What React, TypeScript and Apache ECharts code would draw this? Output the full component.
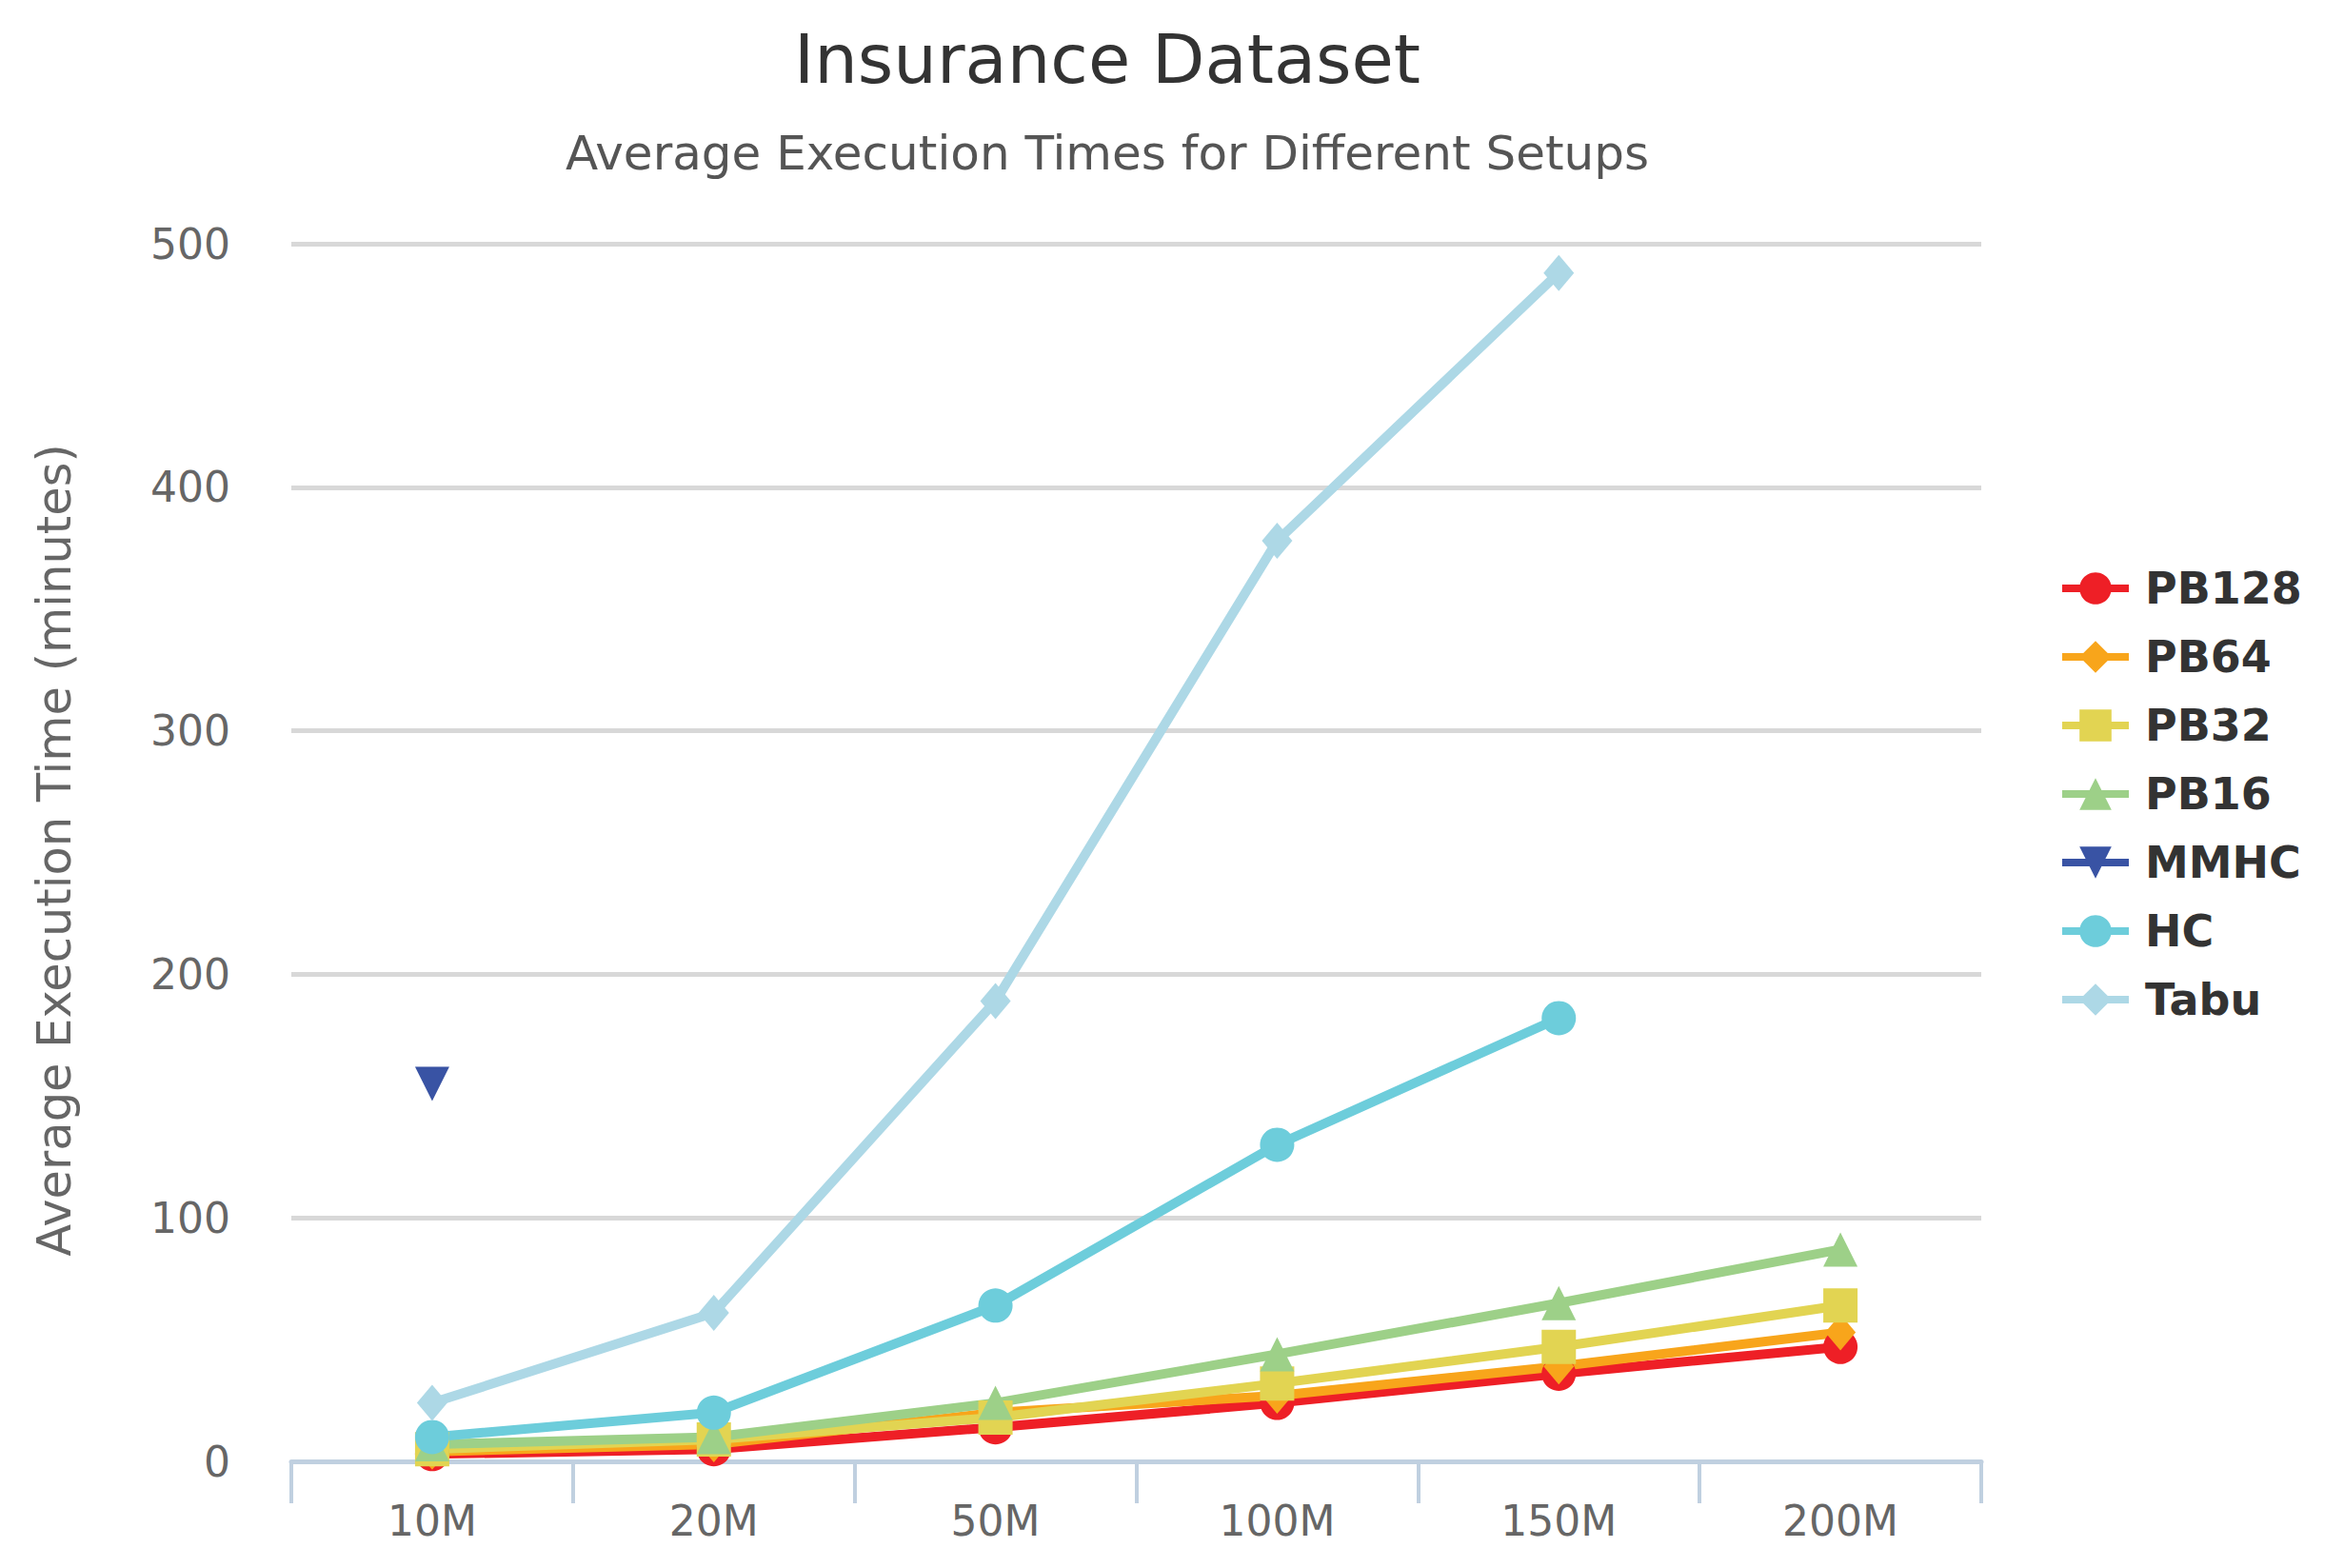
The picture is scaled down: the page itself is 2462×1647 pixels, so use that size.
import React, { useEffect, useRef } from "react";
import * as echarts from "echarts";

const categories = ["10M", "20M", "50M", "100M", "150M", "200M"];
const yTicks = [0, 100, 200, 300, 400, 500];

const pb128 = [3, 5, 14, 24, 36, 47];
const pb64 = [4, 7, 20, 27, 39, 53];
const pb32 = [5, 9, 18, 32, 47, 64];
const pb16 = [7, 10, 24, 44, 65, 87];
const mmhc = [155, null, null, null, null, null];
const hc = [10, 20, 64, 130, 182, null];
const tabu = [24, 61, 189, 378, 488, null];

const seriesNames = ["PB128", "PB64", "PB32", "PB16", "MMHC", "HC", "Tabu"];
const seriesData = [pb128, pb64, pb32, pb16, mmhc, hc, tabu];
const seriesColors = ["#EE1F26", "#F8A51B", "#E2D452", "#9DD088", "#3953A4", "#6DCDDB", "#ADD8E6"];
const seriesSymbols = ["circle", "diamond", "rect", "triangle", "path://M0,0L2,0L1,2Z", "circle", "diamond"];
const seriesSymbolSizes: any[] = [36, [32, 38], 36, 36, 36, 36, [32, 38]];

const FONT = "DejaVu Sans";

export default function App() {
  const ref = useRef<HTMLDivElement>(null);
  useEffect(() => {
    document.body.style.margin = "0";
    if (!ref.current) return;
    const chart = echarts.init(ref.current, null, { renderer: "svg" });
    const series = seriesNames.map((name, i) => ({
      name,
      type: "line",
      data: seriesData[i],
      symbol: seriesSymbols[i],
      symbolSize: seriesSymbolSizes[i],
      showAllSymbol: true,
      connectNulls: false,
      lineStyle: { width: 10, color: seriesColors[i] },
      itemStyle: { color: seriesColors[i] },
      emphasis: { disabled: true },
    }));
    chart.setOption({
      animation: false,
      backgroundColor: "#ffffff",
      textStyle: { fontFamily: FONT },
      grid: { left: 306, right: 381, top: 256, bottom: 112, containLabel: false },
      legend: {
        orient: "vertical",
        left: 2157,
        top: 590,
        itemWidth: 70,
        itemHeight: 42,
        itemGap: 26,
        data: seriesNames,
        lineStyle: { width: 8 },
        textStyle: {
          fontFamily: FONT,
          fontSize: 46,
          fontWeight: "bold",
          color: "#333333",
          lineHeight: 42,
          padding: [0, 0, 0, 12],
        },
      },
      xAxis: {
        type: "category",
        data: categories,
        boundaryGap: true,
        axisLine: { show: true, lineStyle: { color: "#C0D0E0", width: 5 } },
        axisTick: { show: true, alignWithLabel: false, length: 44, lineStyle: { color: "#C0D0E0", width: 4 } },
        axisLabel: { fontFamily: FONT, fontSize: 44, color: "#666666", margin: 40 },
        splitLine: { show: false },
      },
      yAxis: {
        type: "value",
        min: yTicks[0],
        max: yTicks[yTicks.length - 1],
        interval: 100,
        axisLine: { show: false },
        axisTick: { show: false },
        axisLabel: { fontFamily: FONT, fontSize: 44, color: "#666666", margin: 64 },
        splitLine: { show: true, lineStyle: { color: "#D8D8D8", width: 5 } },
      },
      graphic: [
        {
          type: "text",
          x: 1163,
          y: 62,
          style: {
            text: "Insurance Dataset",
            font: `72px "${FONT}"`,
            fill: "#333333",
            textAlign: "center",
            textVerticalAlign: "middle",
          },
        },
        {
          type: "text",
          x: 1163,
          y: 161,
          style: {
            text: "Average Execution Times for Different Setups",
            font: `50px "${FONT}"`,
            fill: "#555555",
            textAlign: "center",
            textVerticalAlign: "middle",
          },
        },
        {
          type: "text",
          x: 57,
          y: 893,
          rotation: Math.PI / 2,
          style: {
            text: "Average Execution Time (minutes)",
            font: `49.5px "${FONT}"`,
            fill: "#666666",
            textAlign: "center",
            textVerticalAlign: "middle",
          },
        },
      ],
      series,
    });
    return () => chart.dispose();
  }, []);
  return <div ref={ref} style={{ width: "2462px", height: "1647px" }} />;
}
